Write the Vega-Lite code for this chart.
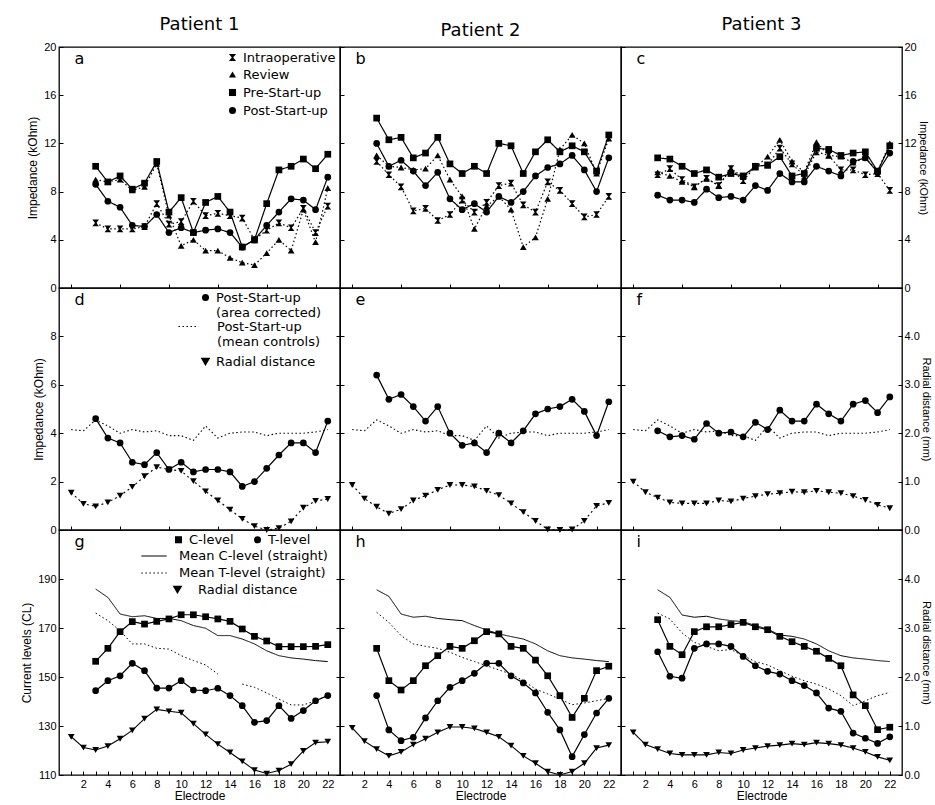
{
"$schema": "https://vega.github.io/schema/vega-lite/v6.json",
"background": "white",
"padding": {"left": 19, "top": 15, "right": 0, "bottom": 0},
"columns": 3,
"spacing": 0,
"bounds": "flush",
"resolve": {"scale": {"shape": "independent", "strokeDash": "independent", "color": "independent"}, "legend": {"shape": "independent", "strokeDash": "independent", "color": "independent"}},
"config": {
  "view": {"stroke": "black", "strokeWidth": 1.3},
  "font": "DejaVu Sans",
  "axis": {"domain": false, "grid": false, "tickSize": -4, "tickColor": "black", "tickWidth": 1, "labelColor": "black", "titleColor": "black", "labelFont": "Liberation Sans", "titleFont": "Liberation Sans", "labelFontSize": 11, "titleFontSize": 12, "titleFontWeight": "normal", "labelPadding": 7, "titlePadding": 4, "labelFlush": false, "labelOverlap": false},
  "title": {"font": "DejaVu Sans", "fontSize": 18, "fontWeight": "normal", "anchor": "middle", "frame": "group", "offset": 7, "color": "black"},
  "legend": {"labelFont": "DejaVu Sans", "labelFontSize": 13, "labelColor": "black", "symbolSize": 50, "rowPadding": 3, "padding": 0, "offset": 4, "labelLimit": 0, "symbolFillColor": "black", "symbolStrokeColor": "black"},
  "point": {"filled": true, "color": "black", "size": 45, "opacity": 1},
  "line": {"color": "black", "strokeWidth": 1.2}
},
"datasets": {
"r1": [
{"p":"a","s":"Intraoperative","e":3,"v":5.4},{"p":"a","s":"Intraoperative","e":4,"v":4.9},{"p":"a","s":"Intraoperative","e":5,"v":4.9},{"p":"a","s":"Intraoperative","e":6,"v":4.9},{"p":"a","s":"Intraoperative","e":7,"v":5.1},{"p":"a","s":"Intraoperative","e":8,"v":7.0},{"p":"a","s":"Intraoperative","e":9,"v":5.3},{"p":"a","s":"Intraoperative","e":10,"v":5.5},{"p":"a","s":"Intraoperative","e":11,"v":7.2},{"p":"a","s":"Intraoperative","e":12,"v":6.0},{"p":"a","s":"Intraoperative","e":13,"v":6.2},{"p":"a","s":"Intraoperative","e":14,"v":6.0},{"p":"a","s":"Intraoperative","e":15,"v":5.8},{"p":"a","s":"Intraoperative","e":16,"v":4.0},{"p":"a","s":"Intraoperative","e":17,"v":4.8},{"p":"a","s":"Intraoperative","e":18,"v":5.4},{"p":"a","s":"Intraoperative","e":19,"v":5.0},{"p":"a","s":"Intraoperative","e":20,"v":6.6},{"p":"a","s":"Intraoperative","e":21,"v":4.6},{"p":"a","s":"Intraoperative","e":22,"v":6.8},
{"p":"a","s":"Review","e":3,"v":9.0},{"p":"a","s":"Review","e":4,"v":8.8},{"p":"a","s":"Review","e":5,"v":9.0},{"p":"a","s":"Review","e":6,"v":8.1},{"p":"a","s":"Review","e":7,"v":8.4},{"p":"a","s":"Review","e":8,"v":10.3},{"p":"a","s":"Review","e":9,"v":6.0},{"p":"a","s":"Review","e":10,"v":3.5},{"p":"a","s":"Review","e":11,"v":4.0},{"p":"a","s":"Review","e":12,"v":3.1},{"p":"a","s":"Review","e":13,"v":3.1},{"p":"a","s":"Review","e":14,"v":2.5},{"p":"a","s":"Review","e":15,"v":2.1},{"p":"a","s":"Review","e":16,"v":1.9},{"p":"a","s":"Review","e":17,"v":2.9},{"p":"a","s":"Review","e":18,"v":4.0},{"p":"a","s":"Review","e":19,"v":3.1},{"p":"a","s":"Review","e":20,"v":6.5},{"p":"a","s":"Review","e":21,"v":3.8},{"p":"a","s":"Review","e":22,"v":8.3},
{"p":"a","s":"Pre-Start-up","e":3,"v":10.1},{"p":"a","s":"Pre-Start-up","e":4,"v":8.8},{"p":"a","s":"Pre-Start-up","e":5,"v":9.3},{"p":"a","s":"Pre-Start-up","e":6,"v":8.2},{"p":"a","s":"Pre-Start-up","e":7,"v":8.7},{"p":"a","s":"Pre-Start-up","e":8,"v":10.5},{"p":"a","s":"Pre-Start-up","e":9,"v":6.3},{"p":"a","s":"Pre-Start-up","e":10,"v":7.5},{"p":"a","s":"Pre-Start-up","e":11,"v":4.6},{"p":"a","s":"Pre-Start-up","e":12,"v":7.1},{"p":"a","s":"Pre-Start-up","e":13,"v":7.6},{"p":"a","s":"Pre-Start-up","e":14,"v":6.3},{"p":"a","s":"Pre-Start-up","e":15,"v":3.4},{"p":"a","s":"Pre-Start-up","e":16,"v":4.0},{"p":"a","s":"Pre-Start-up","e":17,"v":7.0},{"p":"a","s":"Pre-Start-up","e":18,"v":9.8},{"p":"a","s":"Pre-Start-up","e":19,"v":10.1},{"p":"a","s":"Pre-Start-up","e":20,"v":10.7},{"p":"a","s":"Pre-Start-up","e":21,"v":9.9},{"p":"a","s":"Pre-Start-up","e":22,"v":11.1},
{"p":"a","s":"Post-Start-up","e":3,"v":8.6},{"p":"a","s":"Post-Start-up","e":4,"v":7.2},{"p":"a","s":"Post-Start-up","e":5,"v":6.7},{"p":"a","s":"Post-Start-up","e":6,"v":5.2},{"p":"a","s":"Post-Start-up","e":7,"v":5.1},{"p":"a","s":"Post-Start-up","e":8,"v":6.1},{"p":"a","s":"Post-Start-up","e":9,"v":4.6},{"p":"a","s":"Post-Start-up","e":10,"v":5.0},{"p":"a","s":"Post-Start-up","e":11,"v":4.6},{"p":"a","s":"Post-Start-up","e":12,"v":4.8},{"p":"a","s":"Post-Start-up","e":13,"v":4.9},{"p":"a","s":"Post-Start-up","e":14,"v":4.6},{"p":"a","s":"Post-Start-up","e":15,"v":3.4},{"p":"a","s":"Post-Start-up","e":16,"v":4.0},{"p":"a","s":"Post-Start-up","e":17,"v":5.2},{"p":"a","s":"Post-Start-up","e":18,"v":6.3},{"p":"a","s":"Post-Start-up","e":19,"v":7.4},{"p":"a","s":"Post-Start-up","e":20,"v":7.3},{"p":"a","s":"Post-Start-up","e":21,"v":6.5},{"p":"a","s":"Post-Start-up","e":22,"v":9.2},
{"p":"b","s":"Intraoperative","e":3,"v":10.5},{"p":"b","s":"Intraoperative","e":4,"v":9.4},{"p":"b","s":"Intraoperative","e":5,"v":8.4},{"p":"b","s":"Intraoperative","e":6,"v":6.4},{"p":"b","s":"Intraoperative","e":7,"v":6.6},{"p":"b","s":"Intraoperative","e":8,"v":5.6},{"p":"b","s":"Intraoperative","e":9,"v":6.1},{"p":"b","s":"Intraoperative","e":10,"v":7.3},{"p":"b","s":"Intraoperative","e":11,"v":6.3},{"p":"b","s":"Intraoperative","e":12,"v":7.1},{"p":"b","s":"Intraoperative","e":13,"v":8.5},{"p":"b","s":"Intraoperative","e":14,"v":8.7},{"p":"b","s":"Intraoperative","e":15,"v":6.9},{"p":"b","s":"Intraoperative","e":16,"v":6.3},{"p":"b","s":"Intraoperative","e":17,"v":8.8},{"p":"b","s":"Intraoperative","e":18,"v":8.1},{"p":"b","s":"Intraoperative","e":19,"v":7.0},{"p":"b","s":"Intraoperative","e":20,"v":5.9},{"p":"b","s":"Intraoperative","e":21,"v":6.1},{"p":"b","s":"Intraoperative","e":22,"v":7.6},
{"p":"b","s":"Review","e":3,"v":11.0},{"p":"b","s":"Review","e":4,"v":10.1},{"p":"b","s":"Review","e":5,"v":10.0},{"p":"b","s":"Review","e":6,"v":9.8},{"p":"b","s":"Review","e":7,"v":9.9},{"p":"b","s":"Review","e":8,"v":11.0},{"p":"b","s":"Review","e":9,"v":9.0},{"p":"b","s":"Review","e":10,"v":7.6},{"p":"b","s":"Review","e":11,"v":4.9},{"p":"b","s":"Review","e":12,"v":6.8},{"p":"b","s":"Review","e":13,"v":7.6},{"p":"b","s":"Review","e":14,"v":6.5},{"p":"b","s":"Review","e":15,"v":3.4},{"p":"b","s":"Review","e":16,"v":4.2},{"p":"b","s":"Review","e":17,"v":7.4},{"p":"b","s":"Review","e":18,"v":11.5},{"p":"b","s":"Review","e":19,"v":12.7},{"p":"b","s":"Review","e":20,"v":12.0},{"p":"b","s":"Review","e":21,"v":9.5},{"p":"b","s":"Review","e":22,"v":12.4},
{"p":"b","s":"Pre-Start-up","e":3,"v":14.1},{"p":"b","s":"Pre-Start-up","e":4,"v":12.3},{"p":"b","s":"Pre-Start-up","e":5,"v":12.5},{"p":"b","s":"Pre-Start-up","e":6,"v":10.8},{"p":"b","s":"Pre-Start-up","e":7,"v":11.2},{"p":"b","s":"Pre-Start-up","e":8,"v":12.5},{"p":"b","s":"Pre-Start-up","e":9,"v":10.3},{"p":"b","s":"Pre-Start-up","e":10,"v":9.5},{"p":"b","s":"Pre-Start-up","e":11,"v":10.1},{"p":"b","s":"Pre-Start-up","e":12,"v":9.5},{"p":"b","s":"Pre-Start-up","e":13,"v":12.0},{"p":"b","s":"Pre-Start-up","e":14,"v":11.8},{"p":"b","s":"Pre-Start-up","e":15,"v":9.5},{"p":"b","s":"Pre-Start-up","e":16,"v":11.3},{"p":"b","s":"Pre-Start-up","e":17,"v":12.3},{"p":"b","s":"Pre-Start-up","e":18,"v":11.3},{"p":"b","s":"Pre-Start-up","e":19,"v":11.8},{"p":"b","s":"Pre-Start-up","e":20,"v":11.3},{"p":"b","s":"Pre-Start-up","e":21,"v":9.7},{"p":"b","s":"Pre-Start-up","e":22,"v":12.7},
{"p":"b","s":"Post-Start-up","e":3,"v":12.0},{"p":"b","s":"Post-Start-up","e":4,"v":10.1},{"p":"b","s":"Post-Start-up","e":5,"v":10.6},{"p":"b","s":"Post-Start-up","e":6,"v":9.7},{"p":"b","s":"Post-Start-up","e":7,"v":8.5},{"p":"b","s":"Post-Start-up","e":8,"v":9.6},{"p":"b","s":"Post-Start-up","e":9,"v":7.4},{"p":"b","s":"Post-Start-up","e":10,"v":6.5},{"p":"b","s":"Post-Start-up","e":11,"v":7.0},{"p":"b","s":"Post-Start-up","e":12,"v":6.3},{"p":"b","s":"Post-Start-up","e":13,"v":7.6},{"p":"b","s":"Post-Start-up","e":14,"v":7.1},{"p":"b","s":"Post-Start-up","e":15,"v":8.0},{"p":"b","s":"Post-Start-up","e":16,"v":9.3},{"p":"b","s":"Post-Start-up","e":17,"v":10.0},{"p":"b","s":"Post-Start-up","e":18,"v":10.3},{"p":"b","s":"Post-Start-up","e":19,"v":11.0},{"p":"b","s":"Post-Start-up","e":20,"v":9.8},{"p":"b","s":"Post-Start-up","e":21,"v":8.0},{"p":"b","s":"Post-Start-up","e":22,"v":10.8},
{"p":"c","s":"Intraoperative","e":3,"v":9.4},{"p":"c","s":"Intraoperative","e":4,"v":9.9},{"p":"c","s":"Intraoperative","e":5,"v":9.0},{"p":"c","s":"Intraoperative","e":6,"v":8.4},{"p":"c","s":"Intraoperative","e":7,"v":9.1},{"p":"c","s":"Intraoperative","e":8,"v":8.5},{"p":"c","s":"Intraoperative","e":9,"v":9.9},{"p":"c","s":"Intraoperative","e":10,"v":8.9},{"p":"c","s":"Intraoperative","e":11,"v":10.1},{"p":"c","s":"Intraoperative","e":12,"v":10.2},{"p":"c","s":"Intraoperative","e":13,"v":11.6},{"p":"c","s":"Intraoperative","e":14,"v":10.3},{"p":"c","s":"Intraoperative","e":15,"v":9.3},{"p":"c","s":"Intraoperative","e":16,"v":11.3},{"p":"c","s":"Intraoperative","e":17,"v":11.0},{"p":"c","s":"Intraoperative","e":18,"v":9.8},{"p":"c","s":"Intraoperative","e":19,"v":9.8},{"p":"c","s":"Intraoperative","e":20,"v":9.4},{"p":"c","s":"Intraoperative","e":21,"v":9.5},{"p":"c","s":"Intraoperative","e":22,"v":8.1},
{"p":"c","s":"Review","e":3,"v":9.6},{"p":"c","s":"Review","e":4,"v":9.3},{"p":"c","s":"Review","e":5,"v":8.8},{"p":"c","s":"Review","e":6,"v":8.4},{"p":"c","s":"Review","e":7,"v":9.1},{"p":"c","s":"Review","e":8,"v":8.5},{"p":"c","s":"Review","e":9,"v":9.9},{"p":"c","s":"Review","e":10,"v":9.2},{"p":"c","s":"Review","e":11,"v":10.0},{"p":"c","s":"Review","e":12,"v":10.9},{"p":"c","s":"Review","e":13,"v":12.3},{"p":"c","s":"Review","e":14,"v":10.5},{"p":"c","s":"Review","e":15,"v":9.6},{"p":"c","s":"Review","e":16,"v":12.1},{"p":"c","s":"Review","e":17,"v":11.0},{"p":"c","s":"Review","e":18,"v":10.9},{"p":"c","s":"Review","e":19,"v":10.4},{"p":"c","s":"Review","e":20,"v":10.8},{"p":"c","s":"Review","e":21,"v":9.7},{"p":"c","s":"Review","e":22,"v":12.0},
{"p":"c","s":"Pre-Start-up","e":3,"v":10.8},{"p":"c","s":"Pre-Start-up","e":4,"v":10.7},{"p":"c","s":"Pre-Start-up","e":5,"v":10.1},{"p":"c","s":"Pre-Start-up","e":6,"v":9.5},{"p":"c","s":"Pre-Start-up","e":7,"v":9.8},{"p":"c","s":"Pre-Start-up","e":8,"v":9.2},{"p":"c","s":"Pre-Start-up","e":9,"v":9.5},{"p":"c","s":"Pre-Start-up","e":10,"v":9.3},{"p":"c","s":"Pre-Start-up","e":11,"v":10.1},{"p":"c","s":"Pre-Start-up","e":12,"v":10.2},{"p":"c","s":"Pre-Start-up","e":13,"v":10.9},{"p":"c","s":"Pre-Start-up","e":14,"v":9.3},{"p":"c","s":"Pre-Start-up","e":15,"v":9.5},{"p":"c","s":"Pre-Start-up","e":16,"v":11.6},{"p":"c","s":"Pre-Start-up","e":17,"v":11.5},{"p":"c","s":"Pre-Start-up","e":18,"v":11.0},{"p":"c","s":"Pre-Start-up","e":19,"v":11.2},{"p":"c","s":"Pre-Start-up","e":20,"v":11.3},{"p":"c","s":"Pre-Start-up","e":21,"v":9.7},{"p":"c","s":"Pre-Start-up","e":22,"v":11.8},
{"p":"c","s":"Post-Start-up","e":3,"v":7.7},{"p":"c","s":"Post-Start-up","e":4,"v":7.3},{"p":"c","s":"Post-Start-up","e":5,"v":7.3},{"p":"c","s":"Post-Start-up","e":6,"v":7.1},{"p":"c","s":"Post-Start-up","e":7,"v":8.2},{"p":"c","s":"Post-Start-up","e":8,"v":7.5},{"p":"c","s":"Post-Start-up","e":9,"v":7.6},{"p":"c","s":"Post-Start-up","e":10,"v":7.3},{"p":"c","s":"Post-Start-up","e":11,"v":8.5},{"p":"c","s":"Post-Start-up","e":12,"v":8.1},{"p":"c","s":"Post-Start-up","e":13,"v":9.5},{"p":"c","s":"Post-Start-up","e":14,"v":8.8},{"p":"c","s":"Post-Start-up","e":15,"v":8.8},{"p":"c","s":"Post-Start-up","e":16,"v":10.1},{"p":"c","s":"Post-Start-up","e":17,"v":9.7},{"p":"c","s":"Post-Start-up","e":18,"v":9.3},{"p":"c","s":"Post-Start-up","e":19,"v":10.5},{"p":"c","s":"Post-Start-up","e":20,"v":10.8},{"p":"c","s":"Post-Start-up","e":21,"v":9.6},{"p":"c","s":"Post-Start-up","e":22,"v":11.2}
],
"r2": [
{"p":"d","s":"Post-Start-up (area corrected)","e":3,"v":4.6},{"p":"d","s":"Post-Start-up (area corrected)","e":4,"v":3.8},{"p":"d","s":"Post-Start-up (area corrected)","e":5,"v":3.6},{"p":"d","s":"Post-Start-up (area corrected)","e":6,"v":2.8},{"p":"d","s":"Post-Start-up (area corrected)","e":7,"v":2.7},{"p":"d","s":"Post-Start-up (area corrected)","e":8,"v":3.2},{"p":"d","s":"Post-Start-up (area corrected)","e":9,"v":2.5},{"p":"d","s":"Post-Start-up (area corrected)","e":10,"v":2.8},{"p":"d","s":"Post-Start-up (area corrected)","e":11,"v":2.4},{"p":"d","s":"Post-Start-up (area corrected)","e":12,"v":2.5},{"p":"d","s":"Post-Start-up (area corrected)","e":13,"v":2.5},{"p":"d","s":"Post-Start-up (area corrected)","e":14,"v":2.4},{"p":"d","s":"Post-Start-up (area corrected)","e":15,"v":1.8},{"p":"d","s":"Post-Start-up (area corrected)","e":16,"v":2.0},{"p":"d","s":"Post-Start-up (area corrected)","e":17,"v":2.55},{"p":"d","s":"Post-Start-up (area corrected)","e":18,"v":3.1},{"p":"d","s":"Post-Start-up (area corrected)","e":19,"v":3.6},{"p":"d","s":"Post-Start-up (area corrected)","e":20,"v":3.6},{"p":"d","s":"Post-Start-up (area corrected)","e":21,"v":3.2},{"p":"d","s":"Post-Start-up (area corrected)","e":22,"v":4.5},
{"p":"e","s":"Post-Start-up (area corrected)","e":3,"v":6.4},{"p":"e","s":"Post-Start-up (area corrected)","e":4,"v":5.4},{"p":"e","s":"Post-Start-up (area corrected)","e":5,"v":5.6},{"p":"e","s":"Post-Start-up (area corrected)","e":6,"v":5.1},{"p":"e","s":"Post-Start-up (area corrected)","e":7,"v":4.5},{"p":"e","s":"Post-Start-up (area corrected)","e":8,"v":5.1},{"p":"e","s":"Post-Start-up (area corrected)","e":9,"v":4.0},{"p":"e","s":"Post-Start-up (area corrected)","e":10,"v":3.5},{"p":"e","s":"Post-Start-up (area corrected)","e":11,"v":3.6},{"p":"e","s":"Post-Start-up (area corrected)","e":12,"v":3.2},{"p":"e","s":"Post-Start-up (area corrected)","e":13,"v":4.0},{"p":"e","s":"Post-Start-up (area corrected)","e":14,"v":3.6},{"p":"e","s":"Post-Start-up (area corrected)","e":15,"v":4.1},{"p":"e","s":"Post-Start-up (area corrected)","e":16,"v":4.8},{"p":"e","s":"Post-Start-up (area corrected)","e":17,"v":5.0},{"p":"e","s":"Post-Start-up (area corrected)","e":18,"v":5.1},{"p":"e","s":"Post-Start-up (area corrected)","e":19,"v":5.4},{"p":"e","s":"Post-Start-up (area corrected)","e":20,"v":4.9},{"p":"e","s":"Post-Start-up (area corrected)","e":21,"v":3.9},{"p":"e","s":"Post-Start-up (area corrected)","e":22,"v":5.3},
{"p":"f","s":"Post-Start-up (area corrected)","e":3,"v":4.1},{"p":"f","s":"Post-Start-up (area corrected)","e":4,"v":3.85},{"p":"f","s":"Post-Start-up (area corrected)","e":5,"v":3.9},{"p":"f","s":"Post-Start-up (area corrected)","e":6,"v":3.75},{"p":"f","s":"Post-Start-up (area corrected)","e":7,"v":4.4},{"p":"f","s":"Post-Start-up (area corrected)","e":8,"v":4.0},{"p":"f","s":"Post-Start-up (area corrected)","e":9,"v":4.05},{"p":"f","s":"Post-Start-up (area corrected)","e":10,"v":3.85},{"p":"f","s":"Post-Start-up (area corrected)","e":11,"v":4.45},{"p":"f","s":"Post-Start-up (area corrected)","e":12,"v":4.15},{"p":"f","s":"Post-Start-up (area corrected)","e":13,"v":4.95},{"p":"f","s":"Post-Start-up (area corrected)","e":14,"v":4.5},{"p":"f","s":"Post-Start-up (area corrected)","e":15,"v":4.5},{"p":"f","s":"Post-Start-up (area corrected)","e":16,"v":5.2},{"p":"f","s":"Post-Start-up (area corrected)","e":17,"v":4.8},{"p":"f","s":"Post-Start-up (area corrected)","e":18,"v":4.5},{"p":"f","s":"Post-Start-up (area corrected)","e":19,"v":5.2},{"p":"f","s":"Post-Start-up (area corrected)","e":20,"v":5.35},{"p":"f","s":"Post-Start-up (area corrected)","e":21,"v":4.85},{"p":"f","s":"Post-Start-up (area corrected)","e":22,"v":5.5}
],
"ctrl": [
{"s":"Post-Start-up (mean controls)","e":1,"v":4.15},{"s":"Post-Start-up (mean controls)","e":2,"v":4.1},{"s":"Post-Start-up (mean controls)","e":3,"v":4.55},{"s":"Post-Start-up (mean controls)","e":4,"v":4.3},{"s":"Post-Start-up (mean controls)","e":5,"v":4.0},{"s":"Post-Start-up (mean controls)","e":6,"v":4.15},{"s":"Post-Start-up (mean controls)","e":7,"v":4.05},{"s":"Post-Start-up (mean controls)","e":8,"v":4.1},{"s":"Post-Start-up (mean controls)","e":9,"v":3.9},{"s":"Post-Start-up (mean controls)","e":10,"v":3.9},{"s":"Post-Start-up (mean controls)","e":11,"v":3.7},{"s":"Post-Start-up (mean controls)","e":12,"v":4.3},{"s":"Post-Start-up (mean controls)","e":13,"v":3.8},{"s":"Post-Start-up (mean controls)","e":14,"v":4.0},{"s":"Post-Start-up (mean controls)","e":15,"v":4.05},{"s":"Post-Start-up (mean controls)","e":16,"v":4.05},{"s":"Post-Start-up (mean controls)","e":17,"v":3.9},{"s":"Post-Start-up (mean controls)","e":18,"v":4.0},{"s":"Post-Start-up (mean controls)","e":19,"v":4.0},{"s":"Post-Start-up (mean controls)","e":20,"v":4.0},{"s":"Post-Start-up (mean controls)","e":21,"v":4.05},{"s":"Post-Start-up (mean controls)","e":22,"v":4.15}
],
"rad": [
{"p":"d","s":"Radial distance","e":1,"v":0.77},{"p":"d","s":"Radial distance","e":2,"v":0.54},{"p":"d","s":"Radial distance","e":3,"v":0.49},{"p":"d","s":"Radial distance","e":4,"v":0.57},{"p":"d","s":"Radial distance","e":5,"v":0.71},{"p":"d","s":"Radial distance","e":6,"v":0.89},{"p":"d","s":"Radial distance","e":7,"v":1.11},{"p":"d","s":"Radial distance","e":8,"v":1.3},{"p":"d","s":"Radial distance","e":9,"v":1.25},{"p":"d","s":"Radial distance","e":10,"v":1.22},{"p":"d","s":"Radial distance","e":11,"v":1.01},{"p":"d","s":"Radial distance","e":12,"v":0.8},{"p":"d","s":"Radial distance","e":13,"v":0.61},{"p":"d","s":"Radial distance","e":14,"v":0.42},{"p":"d","s":"Radial distance","e":15,"v":0.23},{"p":"d","s":"Radial distance","e":16,"v":0.08},{"p":"d","s":"Radial distance","e":17,"v":0.0},{"p":"d","s":"Radial distance","e":18,"v":0.04},{"p":"d","s":"Radial distance","e":19,"v":0.18},{"p":"d","s":"Radial distance","e":20,"v":0.46},{"p":"d","s":"Radial distance","e":21,"v":0.6},{"p":"d","s":"Radial distance","e":22,"v":0.64},
{"p":"e","s":"Radial distance","e":1,"v":0.93},{"p":"e","s":"Radial distance","e":2,"v":0.65},{"p":"e","s":"Radial distance","e":3,"v":0.48},{"p":"e","s":"Radial distance","e":4,"v":0.34},{"p":"e","s":"Radial distance","e":5,"v":0.43},{"p":"e","s":"Radial distance","e":6,"v":0.61},{"p":"e","s":"Radial distance","e":7,"v":0.71},{"p":"e","s":"Radial distance","e":8,"v":0.83},{"p":"e","s":"Radial distance","e":9,"v":0.93},{"p":"e","s":"Radial distance","e":10,"v":0.93},{"p":"e","s":"Radial distance","e":11,"v":0.9},{"p":"e","s":"Radial distance","e":12,"v":0.81},{"p":"e","s":"Radial distance","e":13,"v":0.72},{"p":"e","s":"Radial distance","e":14,"v":0.55},{"p":"e","s":"Radial distance","e":15,"v":0.37},{"p":"e","s":"Radial distance","e":16,"v":0.19},{"p":"e","s":"Radial distance","e":17,"v":0.01},{"p":"e","s":"Radial distance","e":18,"v":0.0},{"p":"e","s":"Radial distance","e":19,"v":0.01},{"p":"e","s":"Radial distance","e":20,"v":0.19},{"p":"e","s":"Radial distance","e":21,"v":0.5},{"p":"e","s":"Radial distance","e":22,"v":0.56},
{"p":"f","s":"Radial distance","e":1,"v":1.0},{"p":"f","s":"Radial distance","e":2,"v":0.78},{"p":"f","s":"Radial distance","e":3,"v":0.67},{"p":"f","s":"Radial distance","e":4,"v":0.57},{"p":"f","s":"Radial distance","e":5,"v":0.55},{"p":"f","s":"Radial distance","e":6,"v":0.55},{"p":"f","s":"Radial distance","e":7,"v":0.55},{"p":"f","s":"Radial distance","e":8,"v":0.61},{"p":"f","s":"Radial distance","e":9,"v":0.59},{"p":"f","s":"Radial distance","e":10,"v":0.65},{"p":"f","s":"Radial distance","e":11,"v":0.7},{"p":"f","s":"Radial distance","e":12,"v":0.74},{"p":"f","s":"Radial distance","e":13,"v":0.76},{"p":"f","s":"Radial distance","e":14,"v":0.79},{"p":"f","s":"Radial distance","e":15,"v":0.78},{"p":"f","s":"Radial distance","e":16,"v":0.81},{"p":"f","s":"Radial distance","e":17,"v":0.78},{"p":"f","s":"Radial distance","e":18,"v":0.76},{"p":"f","s":"Radial distance","e":19,"v":0.7},{"p":"f","s":"Radial distance","e":20,"v":0.62},{"p":"f","s":"Radial distance","e":21,"v":0.52},{"p":"f","s":"Radial distance","e":22,"v":0.45},
{"p":"g","s":"Radial distance","e":1,"v":0.78},{"p":"g","s":"Radial distance","e":2,"v":0.56},{"p":"g","s":"Radial distance","e":3,"v":0.51},{"p":"g","s":"Radial distance","e":4,"v":0.59},{"p":"g","s":"Radial distance","e":5,"v":0.74},{"p":"g","s":"Radial distance","e":6,"v":0.91},{"p":"g","s":"Radial distance","e":7,"v":1.15},{"p":"g","s":"Radial distance","e":8,"v":1.34},{"p":"g","s":"Radial distance","e":9,"v":1.3},{"p":"g","s":"Radial distance","e":10,"v":1.27},{"p":"g","s":"Radial distance","e":11,"v":1.05},{"p":"g","s":"Radial distance","e":12,"v":0.83},{"p":"g","s":"Radial distance","e":13,"v":0.63},{"p":"g","s":"Radial distance","e":14,"v":0.46},{"p":"g","s":"Radial distance","e":15,"v":0.28},{"p":"g","s":"Radial distance","e":16,"v":0.1},{"p":"g","s":"Radial distance","e":17,"v":0.03},{"p":"g","s":"Radial distance","e":18,"v":0.09},{"p":"g","s":"Radial distance","e":19,"v":0.22},{"p":"g","s":"Radial distance","e":20,"v":0.49},{"p":"g","s":"Radial distance","e":21,"v":0.66},{"p":"g","s":"Radial distance","e":22,"v":0.68},
{"p":"h","s":"Radial distance","e":1,"v":0.96},{"p":"h","s":"Radial distance","e":2,"v":0.69},{"p":"h","s":"Radial distance","e":3,"v":0.53},{"p":"h","s":"Radial distance","e":4,"v":0.39},{"p":"h","s":"Radial distance","e":5,"v":0.47},{"p":"h","s":"Radial distance","e":6,"v":0.62},{"p":"h","s":"Radial distance","e":7,"v":0.74},{"p":"h","s":"Radial distance","e":8,"v":0.87},{"p":"h","s":"Radial distance","e":9,"v":0.98},{"p":"h","s":"Radial distance","e":10,"v":0.98},{"p":"h","s":"Radial distance","e":11,"v":0.95},{"p":"h","s":"Radial distance","e":12,"v":0.87},{"p":"h","s":"Radial distance","e":13,"v":0.78},{"p":"h","s":"Radial distance","e":14,"v":0.6},{"p":"h","s":"Radial distance","e":15,"v":0.39},{"p":"h","s":"Radial distance","e":16,"v":0.24},{"p":"h","s":"Radial distance","e":17,"v":0.07},{"p":"h","s":"Radial distance","e":18,"v":0.0},{"p":"h","s":"Radial distance","e":19,"v":0.07},{"p":"h","s":"Radial distance","e":20,"v":0.24},{"p":"h","s":"Radial distance","e":21,"v":0.55},{"p":"h","s":"Radial distance","e":22,"v":0.61},
{"p":"i","s":"Radial distance","e":1,"v":0.87},{"p":"i","s":"Radial distance","e":2,"v":0.62},{"p":"i","s":"Radial distance","e":3,"v":0.53},{"p":"i","s":"Radial distance","e":4,"v":0.44},{"p":"i","s":"Radial distance","e":5,"v":0.41},{"p":"i","s":"Radial distance","e":6,"v":0.41},{"p":"i","s":"Radial distance","e":7,"v":0.41},{"p":"i","s":"Radial distance","e":8,"v":0.46},{"p":"i","s":"Radial distance","e":9,"v":0.44},{"p":"i","s":"Radial distance","e":10,"v":0.51},{"p":"i","s":"Radial distance","e":11,"v":0.55},{"p":"i","s":"Radial distance","e":12,"v":0.59},{"p":"i","s":"Radial distance","e":13,"v":0.61},{"p":"i","s":"Radial distance","e":14,"v":0.64},{"p":"i","s":"Radial distance","e":15,"v":0.62},{"p":"i","s":"Radial distance","e":16,"v":0.66},{"p":"i","s":"Radial distance","e":17,"v":0.64},{"p":"i","s":"Radial distance","e":18,"v":0.61},{"p":"i","s":"Radial distance","e":19,"v":0.55},{"p":"i","s":"Radial distance","e":20,"v":0.47},{"p":"i","s":"Radial distance","e":21,"v":0.37},{"p":"i","s":"Radial distance","e":22,"v":0.3}
],
"r3": [
{"p":"g","s":"C-level","e":3,"v":156.4},{"p":"g","s":"C-level","e":4,"v":161.7},{"p":"g","s":"C-level","e":5,"v":168.5},{"p":"g","s":"C-level","e":6,"v":172.6},{"p":"g","s":"C-level","e":7,"v":171.6},{"p":"g","s":"C-level","e":8,"v":172.7},{"p":"g","s":"C-level","e":9,"v":173.7},{"p":"g","s":"C-level","e":10,"v":175.4},{"p":"g","s":"C-level","e":11,"v":175.4},{"p":"g","s":"C-level","e":12,"v":174.6},{"p":"g","s":"C-level","e":13,"v":173.7},{"p":"g","s":"C-level","e":14,"v":172.7},{"p":"g","s":"C-level","e":15,"v":169.6},{"p":"g","s":"C-level","e":16,"v":166.6},{"p":"g","s":"C-level","e":17,"v":164.7},{"p":"g","s":"C-level","e":18,"v":162.4},{"p":"g","s":"C-level","e":19,"v":162.4},{"p":"g","s":"C-level","e":20,"v":162.4},{"p":"g","s":"C-level","e":21,"v":162.5},{"p":"g","s":"C-level","e":22,"v":163.2},
{"p":"g","s":"T-level","e":3,"v":144.4},{"p":"g","s":"T-level","e":4,"v":148.5},{"p":"g","s":"T-level","e":5,"v":150.5},{"p":"g","s":"T-level","e":6,"v":155.6},{"p":"g","s":"T-level","e":7,"v":152.6},{"p":"g","s":"T-level","e":8,"v":145.5},{"p":"g","s":"T-level","e":9,"v":145.5},{"p":"g","s":"T-level","e":10,"v":148.5},{"p":"g","s":"T-level","e":11,"v":144.7},{"p":"g","s":"T-level","e":12,"v":144.4},{"p":"g","s":"T-level","e":13,"v":145.4},{"p":"g","s":"T-level","e":14,"v":142.4},{"p":"g","s":"T-level","e":15,"v":138.3},{"p":"g","s":"T-level","e":16,"v":131.5},{"p":"g","s":"T-level","e":17,"v":132.2},{"p":"g","s":"T-level","e":18,"v":138.3},{"p":"g","s":"T-level","e":19,"v":133.1},{"p":"g","s":"T-level","e":20,"v":136.3},{"p":"g","s":"T-level","e":21,"v":140.3},{"p":"g","s":"T-level","e":22,"v":142.4},
{"p":"g","s":"Mean C-level (straight)","e":3,"v":185.9},{"p":"g","s":"Mean C-level (straight)","e":4,"v":182.5},{"p":"g","s":"Mean C-level (straight)","e":5,"v":175.7},{"p":"g","s":"Mean C-level (straight)","e":6,"v":174.6},{"p":"g","s":"Mean C-level (straight)","e":7,"v":175.0},{"p":"g","s":"Mean C-level (straight)","e":8,"v":173.9},{"p":"g","s":"Mean C-level (straight)","e":9,"v":173.9},{"p":"g","s":"Mean C-level (straight)","e":10,"v":173.0},{"p":"g","s":"Mean C-level (straight)","e":11,"v":171.0},{"p":"g","s":"Mean C-level (straight)","e":12,"v":169.9},{"p":"g","s":"Mean C-level (straight)","e":13,"v":166.9},{"p":"g","s":"Mean C-level (straight)","e":14,"v":166.9},{"p":"g","s":"Mean C-level (straight)","e":15,"v":165.5},{"p":"g","s":"Mean C-level (straight)","e":16,"v":163.5},{"p":"g","s":"Mean C-level (straight)","e":17,"v":160.7},{"p":"g","s":"Mean C-level (straight)","e":18,"v":158.7},{"p":"g","s":"Mean C-level (straight)","e":19,"v":157.8},{"p":"g","s":"Mean C-level (straight)","e":20,"v":157.3},{"p":"g","s":"Mean C-level (straight)","e":21,"v":156.7},{"p":"g","s":"Mean C-level (straight)","e":22,"v":156.3},
{"p":"g","s":"Mean T-level (straight)","e":3,"v":176.1},{"p":"g","s":"Mean T-level (straight)","e":4,"v":173.0},{"p":"g","s":"Mean T-level (straight)","e":5,"v":168.9},{"p":"g","s":"Mean T-level (straight)","e":6,"v":163.5},{"p":"g","s":"Mean T-level (straight)","e":7,"v":163.5},{"p":"g","s":"Mean T-level (straight)","e":8,"v":161.7},{"p":"g","s":"Mean T-level (straight)","e":9,"v":161.4},{"p":"g","s":"Mean T-level (straight)","e":10,"v":158.7},{"p":"g","s":"Mean T-level (straight)","e":11,"v":156.7},{"p":"g","s":"Mean T-level (straight)","e":12,"v":154.9},{"p":"g","s":"Mean T-level (straight)","e":13,"v":151.2},{"p":"g","s":"Mean T-level (straight)","e":14,"v":null},{"p":"g","s":"Mean T-level (straight)","e":15,"v":147.1},{"p":"g","s":"Mean T-level (straight)","e":16,"v":145.8},{"p":"g","s":"Mean T-level (straight)","e":17,"v":143.5},{"p":"g","s":"Mean T-level (straight)","e":18,"v":141.0},{"p":"g","s":"Mean T-level (straight)","e":19,"v":138.6},{"p":"g","s":"Mean T-level (straight)","e":20,"v":138.6},{"p":"g","s":"Mean T-level (straight)","e":21,"v":140.3},{"p":"g","s":"Mean T-level (straight)","e":22,"v":142.4},
{"p":"h","s":"C-level","e":3,"v":161.7},{"p":"h","s":"C-level","e":4,"v":148.5},{"p":"h","s":"C-level","e":5,"v":144.7},{"p":"h","s":"C-level","e":6,"v":148.5},{"p":"h","s":"C-level","e":7,"v":154.6},{"p":"h","s":"C-level","e":8,"v":158.7},{"p":"h","s":"C-level","e":9,"v":162.5},{"p":"h","s":"C-level","e":10,"v":161.7},{"p":"h","s":"C-level","e":11,"v":164.8},{"p":"h","s":"C-level","e":12,"v":168.5},{"p":"h","s":"C-level","e":13,"v":167.6},{"p":"h","s":"C-level","e":14,"v":162.5},{"p":"h","s":"C-level","e":15,"v":161.7},{"p":"h","s":"C-level","e":16,"v":156.9},{"p":"h","s":"C-level","e":17,"v":150.5},{"p":"h","s":"C-level","e":18,"v":142.4},{"p":"h","s":"C-level","e":19,"v":133.5},{"p":"h","s":"C-level","e":20,"v":141.3},{"p":"h","s":"C-level","e":21,"v":152.6},{"p":"h","s":"C-level","e":22,"v":154.4},
{"p":"h","s":"T-level","e":3,"v":142.4},{"p":"h","s":"T-level","e":4,"v":128.4},{"p":"h","s":"T-level","e":5,"v":124.0},{"p":"h","s":"T-level","e":6,"v":125.4},{"p":"h","s":"T-level","e":7,"v":133.3},{"p":"h","s":"T-level","e":8,"v":140.3},{"p":"h","s":"T-level","e":9,"v":145.8},{"p":"h","s":"T-level","e":10,"v":148.5},{"p":"h","s":"T-level","e":11,"v":151.5},{"p":"h","s":"T-level","e":12,"v":155.6},{"p":"h","s":"T-level","e":13,"v":155.6},{"p":"h","s":"T-level","e":14,"v":150.5},{"p":"h","s":"T-level","e":15,"v":147.6},{"p":"h","s":"T-level","e":16,"v":143.5},{"p":"h","s":"T-level","e":17,"v":135.6},{"p":"h","s":"T-level","e":18,"v":128.4},{"p":"h","s":"T-level","e":19,"v":117.5},{"p":"h","s":"T-level","e":20,"v":126.5},{"p":"h","s":"T-level","e":21,"v":135.3},{"p":"h","s":"T-level","e":22,"v":141.3},
{"p":"h","s":"Mean C-level (straight)","e":3,"v":185.6},{"p":"h","s":"Mean C-level (straight)","e":4,"v":182.9},{"p":"h","s":"Mean C-level (straight)","e":5,"v":175.7},{"p":"h","s":"Mean C-level (straight)","e":6,"v":174.4},{"p":"h","s":"Mean C-level (straight)","e":7,"v":174.8},{"p":"h","s":"Mean C-level (straight)","e":8,"v":173.9},{"p":"h","s":"Mean C-level (straight)","e":9,"v":173.4},{"p":"h","s":"Mean C-level (straight)","e":10,"v":173.0},{"p":"h","s":"Mean C-level (straight)","e":11,"v":171.0},{"p":"h","s":"Mean C-level (straight)","e":12,"v":169.2},{"p":"h","s":"Mean C-level (straight)","e":13,"v":167.6},{"p":"h","s":"Mean C-level (straight)","e":14,"v":166.5},{"p":"h","s":"Mean C-level (straight)","e":15,"v":165.5},{"p":"h","s":"Mean C-level (straight)","e":16,"v":163.5},{"p":"h","s":"Mean C-level (straight)","e":17,"v":160.7},{"p":"h","s":"Mean C-level (straight)","e":18,"v":158.7},{"p":"h","s":"Mean C-level (straight)","e":19,"v":157.8},{"p":"h","s":"Mean C-level (straight)","e":20,"v":157.3},{"p":"h","s":"Mean C-level (straight)","e":21,"v":156.7},{"p":"h","s":"Mean C-level (straight)","e":22,"v":156.3},
{"p":"h","s":"Mean T-level (straight)","e":3,"v":176.4},{"p":"h","s":"Mean T-level (straight)","e":4,"v":172.3},{"p":"h","s":"Mean T-level (straight)","e":5,"v":166.9},{"p":"h","s":"Mean T-level (straight)","e":6,"v":163.5},{"p":"h","s":"Mean T-level (straight)","e":7,"v":162.5},{"p":"h","s":"Mean T-level (straight)","e":8,"v":161.7},{"p":"h","s":"Mean T-level (straight)","e":9,"v":160.1},{"p":"h","s":"Mean T-level (straight)","e":10,"v":158.0},{"p":"h","s":"Mean T-level (straight)","e":11,"v":156.3},{"p":"h","s":"Mean T-level (straight)","e":12,"v":154.6},{"p":"h","s":"Mean T-level (straight)","e":13,"v":152.9},{"p":"h","s":"Mean T-level (straight)","e":14,"v":151.2},{"p":"h","s":"Mean T-level (straight)","e":15,"v":148.5},{"p":"h","s":"Mean T-level (straight)","e":16,"v":145.1},{"p":"h","s":"Mean T-level (straight)","e":17,"v":143.1},{"p":"h","s":"Mean T-level (straight)","e":18,"v":141.0},{"p":"h","s":"Mean T-level (straight)","e":19,"v":138.7},{"p":"h","s":"Mean T-level (straight)","e":20,"v":139.4},{"p":"h","s":"Mean T-level (straight)","e":21,"v":140.3},{"p":"h","s":"Mean T-level (straight)","e":22,"v":141.3},
{"p":"i","s":"C-level","e":3,"v":173.4},{"p":"i","s":"C-level","e":4,"v":162.5},{"p":"i","s":"C-level","e":5,"v":159.1},{"p":"i","s":"C-level","e":6,"v":168.5},{"p":"i","s":"C-level","e":7,"v":170.5},{"p":"i","s":"C-level","e":8,"v":170.5},{"p":"i","s":"C-level","e":9,"v":171.4},{"p":"i","s":"C-level","e":10,"v":172.3},{"p":"i","s":"C-level","e":11,"v":170.5},{"p":"i","s":"C-level","e":12,"v":169.3},{"p":"i","s":"C-level","e":13,"v":166.6},{"p":"i","s":"C-level","e":14,"v":164.4},{"p":"i","s":"C-level","e":15,"v":162.5},{"p":"i","s":"C-level","e":16,"v":160.5},{"p":"i","s":"C-level","e":17,"v":157.6},{"p":"i","s":"C-level","e":18,"v":154.6},{"p":"i","s":"C-level","e":19,"v":142.7},{"p":"i","s":"C-level","e":20,"v":138.3},{"p":"i","s":"C-level","e":21,"v":128.5},{"p":"i","s":"C-level","e":22,"v":129.5},
{"p":"i","s":"T-level","e":3,"v":160.3},{"p":"i","s":"T-level","e":4,"v":150.3},{"p":"i","s":"T-level","e":5,"v":149.5},{"p":"i","s":"T-level","e":6,"v":161.7},{"p":"i","s":"T-level","e":7,"v":163.5},{"p":"i","s":"T-level","e":8,"v":163.5},{"p":"i","s":"T-level","e":9,"v":162.5},{"p":"i","s":"T-level","e":10,"v":158.4},{"p":"i","s":"T-level","e":11,"v":154.6},{"p":"i","s":"T-level","e":12,"v":152.3},{"p":"i","s":"T-level","e":13,"v":151.2},{"p":"i","s":"T-level","e":14,"v":148.5},{"p":"i","s":"T-level","e":15,"v":146.5},{"p":"i","s":"T-level","e":16,"v":143.5},{"p":"i","s":"T-level","e":17,"v":137.3},{"p":"i","s":"T-level","e":18,"v":136.0},{"p":"i","s":"T-level","e":19,"v":127.1},{"p":"i","s":"T-level","e":20,"v":125.0},{"p":"i","s":"T-level","e":21,"v":122.9},{"p":"i","s":"T-level","e":22,"v":125.6},
{"p":"i","s":"Mean C-level (straight)","e":3,"v":185.6},{"p":"i","s":"Mean C-level (straight)","e":4,"v":182.5},{"p":"i","s":"Mean C-level (straight)","e":5,"v":175.3},{"p":"i","s":"Mean C-level (straight)","e":6,"v":174.4},{"p":"i","s":"Mean C-level (straight)","e":7,"v":174.8},{"p":"i","s":"Mean C-level (straight)","e":8,"v":173.7},{"p":"i","s":"Mean C-level (straight)","e":9,"v":173.0},{"p":"i","s":"Mean C-level (straight)","e":10,"v":172.6},{"p":"i","s":"Mean C-level (straight)","e":11,"v":171.0},{"p":"i","s":"Mean C-level (straight)","e":12,"v":169.6},{"p":"i","s":"Mean C-level (straight)","e":13,"v":167.1},{"p":"i","s":"Mean C-level (straight)","e":14,"v":166.6},{"p":"i","s":"Mean C-level (straight)","e":15,"v":165.5},{"p":"i","s":"Mean C-level (straight)","e":16,"v":163.5},{"p":"i","s":"Mean C-level (straight)","e":17,"v":160.7},{"p":"i","s":"Mean C-level (straight)","e":18,"v":158.7},{"p":"i","s":"Mean C-level (straight)","e":19,"v":157.8},{"p":"i","s":"Mean C-level (straight)","e":20,"v":157.3},{"p":"i","s":"Mean C-level (straight)","e":21,"v":156.7},{"p":"i","s":"Mean C-level (straight)","e":22,"v":156.3},
{"p":"i","s":"Mean T-level (straight)","e":3,"v":176.1},{"p":"i","s":"Mean T-level (straight)","e":4,"v":173.7},{"p":"i","s":"Mean T-level (straight)","e":5,"v":168.0},{"p":"i","s":"Mean T-level (straight)","e":6,"v":164.1},{"p":"i","s":"Mean T-level (straight)","e":7,"v":162.5},{"p":"i","s":"Mean T-level (straight)","e":8,"v":160.7},{"p":"i","s":"Mean T-level (straight)","e":9,"v":161.2},{"p":"i","s":"Mean T-level (straight)","e":10,"v":158.7},{"p":"i","s":"Mean T-level (straight)","e":11,"v":156.3},{"p":"i","s":"Mean T-level (straight)","e":12,"v":154.9},{"p":"i","s":"Mean T-level (straight)","e":13,"v":152.6},{"p":"i","s":"Mean T-level (straight)","e":14,"v":150.3},{"p":"i","s":"Mean T-level (straight)","e":15,"v":148.5},{"p":"i","s":"Mean T-level (straight)","e":16,"v":147.1},{"p":"i","s":"Mean T-level (straight)","e":17,"v":145.1},{"p":"i","s":"Mean T-level (straight)","e":18,"v":142.4},{"p":"i","s":"Mean T-level (straight)","e":19,"v":138.3},{"p":"i","s":"Mean T-level (straight)","e":20,"v":140.3},{"p":"i","s":"Mean T-level (straight)","e":21,"v":142.4},{"p":"i","s":"Mean T-level (straight)","e":22,"v":143.7}
]
},
"concat": [
{
 "width": 281, "height": 241,
 "title": {"text": "Patient 1"},
 "data": {"name": "r1"},
 "transform": [{"filter": "datum.p === 'a'"}],
 "layer": [
  {"mark": {"type": "line"},
   "encoding": {
    "x": {"field": "e", "type": "quantitative", "scale": {"domain": [0, 23], "nice": false, "zero": false}, "axis": {"values": [1,2,3,4,5,6,7,8,9,10,11,12,13,14,15,16,17,18,19,20,21,22], "labels": false, "title": "a", "titleX": 15, "titleY": -225, "titleAngle": 0, "titleAlign": "left", "titleBaseline": "alphabetic", "titleFont": "DejaVu Sans", "titleFontSize": 16}},
    "y": {"field": "v", "type": "quantitative", "scale": {"domain": [0, 20], "nice": false}, "axis": {"values": [0,4,8,12,16,20], "title": "Impedance (kOhm)"}},
    "strokeDash": {"field": "s", "type": "nominal", "scale": {"domain": ["Post-Start-up","Pre-Start-up","Review","Intraoperative"], "range": [[1,0],[1,0],[1.5,2.5],[1.5,2.5]]}, "legend": null}}},
  {"mark": {"type": "point"},
   "encoding": {
    "x": {"field": "e", "type": "quantitative"},
    "y": {"field": "v", "type": "quantitative"},
    "shape": {"field": "s", "type": "nominal", "scale": {"domain": ["Intraoperative","Review","Pre-Start-up","Post-Start-up"], "range": ["M-1,-1H1L0.2,0L1,1H-1L-0.2,0Z","triangle-up","square","circle"]}, "legend": {"orient": "top-right", "title": null}}}}
 ]
},
{
 "width": 281, "height": 241,
 "title": {"text": "Patient 2"},
 "data": {"name": "r1"},
 "transform": [{"filter": "datum.p === 'b'"}],
 "layer": [
  {"mark": {"type": "line"},
   "encoding": {
    "x": {"field": "e", "type": "quantitative", "scale": {"domain": [0, 23], "nice": false, "zero": false}, "axis": {"values": [1,2,3,4,5,6,7,8,9,10,11,12,13,14,15,16,17,18,19,20,21,22], "labels": false, "title": "b", "titleX": 15, "titleY": -225, "titleAngle": 0, "titleAlign": "left", "titleBaseline": "alphabetic", "titleFont": "DejaVu Sans", "titleFontSize": 16}},
    "y": {"field": "v", "type": "quantitative", "scale": {"domain": [0, 20], "nice": false}, "axis": {"values": [0,4,8,12,16,20], "labels": false, "title": null}},
    "strokeDash": {"field": "s", "type": "nominal", "scale": {"domain": ["Intraoperative","Review","Pre-Start-up","Post-Start-up"], "range": [[1.5,2.5],[1.5,2.5],[1,0],[1,0]]}, "legend": null}}},
  {"mark": {"type": "point"},
   "encoding": {
    "x": {"field": "e", "type": "quantitative"},
    "y": {"field": "v", "type": "quantitative"},
    "shape": {"field": "s", "type": "nominal", "scale": {"domain": ["Intraoperative","Review","Pre-Start-up","Post-Start-up"], "range": ["M-1,-1H1L0.2,0L1,1H-1L-0.2,0Z","triangle-up","square","circle"]}, "legend": null}}}
 ]
},
{
 "width": 281, "height": 241,
 "title": {"text": "Patient 3"},
 "data": {"name": "r1"},
 "transform": [{"filter": "datum.p === 'c'"}],
 "layer": [
  {"mark": {"type": "line"},
   "encoding": {
    "x": {"field": "e", "type": "quantitative", "scale": {"domain": [0, 23], "nice": false, "zero": false}, "axis": {"values": [1,2,3,4,5,6,7,8,9,10,11,12,13,14,15,16,17,18,19,20,21,22], "labels": false, "title": "c", "titleX": 15, "titleY": -225, "titleAngle": 0, "titleAlign": "left", "titleBaseline": "alphabetic", "titleFont": "DejaVu Sans", "titleFontSize": 16}},
    "y": {"field": "v", "type": "quantitative", "scale": {"domain": [0, 20], "nice": false}, "axis": {"orient": "left", "values": [0,4,8,12,16,20], "labels": false, "title": null}},
    "strokeDash": {"field": "s", "type": "nominal", "scale": {"domain": ["Intraoperative","Review","Pre-Start-up","Post-Start-up"], "range": [[1.5,2.5],[1.5,2.5],[1,0],[1,0]]}, "legend": null}}},
  {"mark": {"type": "point"},
   "encoding": {
    "x": {"field": "e", "type": "quantitative"},
    "y": {"field": "v", "type": "quantitative", "axis": {"orient": "right", "values": [0,4,8,12,16,20], "title": "Impedance (kOhm)", "titleFontSize": 11, "labelPadding": 6, "titlePadding": 1}},
    "shape": {"field": "s", "type": "nominal", "scale": {"domain": ["Intraoperative","Review","Pre-Start-up","Post-Start-up"], "range": ["M-1,-1H1L0.2,0L1,1H-1L-0.2,0Z","triangle-up","square","circle"]}, "legend": null}}}
 ]
},
{
 "width": 281, "height": 242,
 "resolve": {"scale": {"y": "independent"}},
 "layer": [
  {"layer": [
    {"data": {"name": "r2"}, "transform": [{"filter": "datum.p === 'd'"}],
     "mark": {"type": "line"},
     "encoding": {
      "x": {"field": "e", "type": "quantitative", "scale": {"domain": [0, 23], "nice": false, "zero": false}, "axis": {"values": [1,2,3,4,5,6,7,8,9,10,11,12,13,14,15,16,17,18,19,20,21,22], "labels": false, "title": "d", "titleX": 15, "titleY": -226, "titleAngle": 0, "titleAlign": "left", "titleBaseline": "alphabetic", "titleFont": "DejaVu Sans", "titleFontSize": 16}},
      "y": {"field": "v", "type": "quantitative", "scale": {"domain": [0, 10], "nice": false}, "axis": {"values": [0,2,4,6,8], "title": "Impedance (kOhm)"}}}},
    {"data": {"name": "ctrl"},
     "mark": {"type": "line", "strokeWidth": 1.1},
     "encoding": {
      "x": {"field": "e", "type": "quantitative"},
      "y": {"field": "v", "type": "quantitative"},
      "strokeDash": {"field": "s", "type": "nominal", "scale": {"domain": ["Post-Start-up (mean controls)"], "range": [[1.5,2.5]]},
        "legend": {"orient": "none", "legendX": 122, "legendY": 31, "title": null, "symbolType": "M-1.5,0H1.5", "symbolSize": 180, "symbolStrokeWidth": 1.2, "labelOffset": 21,
          "labelExpr": "indexof(datum.label, ' (') > 0 ? [slice(datum.label, 0, indexof(datum.label, ' (')), ' ' + slice(datum.label, indexof(datum.label, ' (') + 1)] : datum.label"}}}},
    {"data": {"name": "r2"}, "transform": [{"filter": "datum.p === 'd'"}],
     "mark": {"type": "point"},
     "encoding": {
      "x": {"field": "e", "type": "quantitative"},
      "y": {"field": "v", "type": "quantitative"},
      "shape": {"field": "s", "type": "nominal", "scale": {"domain": ["Post-Start-up (area corrected)"], "range": ["circle"]},
        "legend": {"orient": "none", "legendX": 140, "legendY": 3, "title": null,
          "labelExpr": "indexof(datum.label, ' (') > 0 ? [slice(datum.label, 0, indexof(datum.label, ' (')), ' ' + slice(datum.label, indexof(datum.label, ' (') + 1)] : datum.label"}}}}
  ]},
  {"data": {"name": "rad"}, "transform": [{"filter": "datum.p === 'd'"}],
   "layer": [
    {"mark": {"type": "line", "strokeWidth": 1.1, "strokeDash": [2, 3]},
     "encoding": {
      "x": {"field": "e", "type": "quantitative"},
      "y": {"field": "v", "type": "quantitative", "scale": {"domain": [0, 5], "nice": false}, "axis": {"orient": "right", "values": [0,1,2,3,4], "labels": false, "title": null}}}},
    {"mark": {"type": "point", "shape": "triangle-down"},
     "encoding": {
      "x": {"field": "e", "type": "quantitative"},
      "y": {"field": "v", "type": "quantitative"},
      "color": {"field": "s", "type": "nominal", "scale": {"domain": ["Radial distance"], "range": ["black"]},
        "legend": {"orient": "none", "legendX": 140, "legendY": 67, "title": null}}}}
  ]}
 ]
},
{
 "width": 281, "height": 242,
 "resolve": {"scale": {"y": "independent"}},
 "layer": [
  {"layer": [
    {"data": {"name": "r2"}, "transform": [{"filter": "datum.p === 'e'"}],
     "mark": {"type": "line"},
     "encoding": {
      "x": {"field": "e", "type": "quantitative", "scale": {"domain": [0, 23], "nice": false, "zero": false}, "axis": {"values": [1,2,3,4,5,6,7,8,9,10,11,12,13,14,15,16,17,18,19,20,21,22], "labels": false, "title": "e", "titleX": 15, "titleY": -226, "titleAngle": 0, "titleAlign": "left", "titleBaseline": "alphabetic", "titleFont": "DejaVu Sans", "titleFontSize": 16}},
      "y": {"field": "v", "type": "quantitative", "scale": {"domain": [0, 10], "nice": false}, "axis": {"values": [0,2,4,6,8], "labels": false, "title": null}}}},
    {"data": {"name": "ctrl"},
     "mark": {"type": "line", "strokeWidth": 1.1, "strokeDash": [1.5, 2.5]},
     "encoding": {
      "x": {"field": "e", "type": "quantitative"},
      "y": {"field": "v", "type": "quantitative"}}},
    {"data": {"name": "r2"}, "transform": [{"filter": "datum.p === 'e'"}],
     "mark": {"type": "point", "shape": "circle"},
     "encoding": {
      "x": {"field": "e", "type": "quantitative"},
      "y": {"field": "v", "type": "quantitative"}}}
  ]},
  {"data": {"name": "rad"}, "transform": [{"filter": "datum.p === 'e'"}],
   "layer": [
    {"mark": {"type": "line", "strokeWidth": 1.1, "strokeDash": [2, 3]},
     "encoding": {
      "x": {"field": "e", "type": "quantitative"},
      "y": {"field": "v", "type": "quantitative", "scale": {"domain": [0, 5], "nice": false}, "axis": {"orient": "right", "values": [0,1,2,3,4], "labels": false, "title": null}}}},
    {"mark": {"type": "point", "shape": "triangle-down"},
     "encoding": {
      "x": {"field": "e", "type": "quantitative"},
      "y": {"field": "v", "type": "quantitative"}}}
  ]}
 ]
},
{
 "width": 281, "height": 242,
 "resolve": {"scale": {"y": "independent"}},
 "layer": [
  {"layer": [
    {"data": {"name": "r2"}, "transform": [{"filter": "datum.p === 'f'"}],
     "mark": {"type": "line"},
     "encoding": {
      "x": {"field": "e", "type": "quantitative", "scale": {"domain": [0, 23], "nice": false, "zero": false}, "axis": {"values": [1,2,3,4,5,6,7,8,9,10,11,12,13,14,15,16,17,18,19,20,21,22], "labels": false, "title": "f", "titleX": 15, "titleY": -226, "titleAngle": 0, "titleAlign": "left", "titleBaseline": "alphabetic", "titleFont": "DejaVu Sans", "titleFontSize": 16}},
      "y": {"field": "v", "type": "quantitative", "scale": {"domain": [0, 10], "nice": false}, "axis": {"values": [0,2,4,6,8], "labels": false, "title": null}}}},
    {"data": {"name": "ctrl"},
     "mark": {"type": "line", "strokeWidth": 1.1, "strokeDash": [1.5, 2.5]},
     "encoding": {
      "x": {"field": "e", "type": "quantitative"},
      "y": {"field": "v", "type": "quantitative"}}},
    {"data": {"name": "r2"}, "transform": [{"filter": "datum.p === 'f'"}],
     "mark": {"type": "point", "shape": "circle"},
     "encoding": {
      "x": {"field": "e", "type": "quantitative"},
      "y": {"field": "v", "type": "quantitative"}}}
  ]},
  {"data": {"name": "rad"}, "transform": [{"filter": "datum.p === 'f'"}],
   "layer": [
    {"mark": {"type": "line", "strokeWidth": 1.1, "strokeDash": [2, 3]},
     "encoding": {
      "x": {"field": "e", "type": "quantitative"},
      "y": {"field": "v", "type": "quantitative", "scale": {"domain": [0, 5], "nice": false}, "axis": {"orient": "right", "values": [0,1,2,3,4], "format": ".1f", "title": "Radial distance (mm)", "titleFontSize": 11, "labelPadding": 6, "titlePadding": 1}}}},
    {"mark": {"type": "point", "shape": "triangle-down"},
     "encoding": {
      "x": {"field": "e", "type": "quantitative"},
      "y": {"field": "v", "type": "quantitative"}}}
  ]}
 ]
},
{
 "width": 281, "height": 245,
 "resolve": {"scale": {"y": "independent"}, "axis": {"x": "independent"}},
 "layer": [
  {"data": {"name": "r3"}, "transform": [{"filter": "datum.p === 'g'"}],
   "layer": [
    {"transform": [{"filter": "datum.s === 'C-level' || datum.s === 'T-level'"}],
     "mark": {"type": "line"},
     "encoding": {
      "x": {"field": "e", "type": "quantitative", "scale": {"domain": [0, 23], "nice": false, "zero": false}, "axis": {"orient": "bottom", "values": [2,6,10,14,18,22], "title": "Electrode", "titlePadding": 1}},
      "y": {"field": "v", "type": "quantitative", "scale": {"domain": [110, 210], "nice": false, "zero": false}, "axis": {"values": [110,130,150,170,190], "title": "Current levels (CL)"}},
      "detail": {"field": "s", "type": "nominal"}}},
    {"transform": [{"filter": "datum.s === 'C-level' || datum.s === 'T-level'"}],
     "mark": {"type": "point"},
     "encoding": {
      "x": {"field": "e", "type": "quantitative"},
      "y": {"field": "v", "type": "quantitative"},
      "shape": {"field": "s", "type": "nominal", "scale": {"domain": ["C-level","T-level"], "range": ["square","circle"]}, "legend": {"orient": "none", "legendX": 113, "legendY": 3, "direction": "horizontal", "title": null, "columnPadding": 16}}}},
    {"transform": [{"filter": "datum.s === 'Mean C-level (straight)' || datum.s === 'Mean T-level (straight)'"}],
     "mark": {"type": "line", "strokeWidth": 1, "invalid": "break-paths-filter-domains"},
     "encoding": {
      "x": {"field": "e", "type": "quantitative"},
      "y": {"field": "v", "type": "quantitative"},
      "strokeDash": {"field": "s", "type": "nominal", "scale": {"domain": ["Mean C-level (straight)","Mean T-level (straight)"], "range": [[1,0],[1.5,2.5]]},
        "legend": {"orient": "none", "legendX": 88, "legendY": 19, "title": null, "symbolType": "M-2,0H2", "symbolSize": 160, "symbolStrokeWidth": 1, "labelOffset": 18, "rowPadding": 3}}}}
   ]},
  {"data": {"name": "rad"}, "transform": [{"filter": "datum.p === 'g'"}],
   "mark": {"type": "line", "strokeWidth": 1.1},
   "encoding": {
    "x": {"field": "e", "type": "quantitative", "axis": {"orient": "bottom", "values": [4,8,12,16,20], "title": null}},
    "y": {"field": "v", "type": "quantitative", "scale": {"domain": [0, 5], "nice": false}, "axis": {"orient": "right", "values": [0,1,2,3,4], "labels": false, "title": "g", "titleX": -266, "titleY": 16, "titleAngle": 0, "titleAlign": "left", "titleBaseline": "alphabetic", "titleFont": "DejaVu Sans", "titleFontSize": 16}}}},
  {"data": {"name": "rad"}, "transform": [{"filter": "datum.p === 'g'"}],
   "mark": {"type": "point", "shape": "triangle-down"},
   "encoding": {
    "x": {"field": "e", "type": "quantitative", "axis": {"orient": "bottom", "values": [1,3,5,7,9,11,13,15,17,19,21], "labels": false, "title": null}},
    "y": {"field": "v", "type": "quantitative", "scale": {"domain": [0, 5], "nice": false}, "axis": null},
    "color": {"field": "s", "type": "nominal", "scale": {"domain": ["Radial distance"], "range": ["black"]},
      "legend": {"orient": "none", "legendX": 112, "legendY": 53, "title": null, "labelOffset": 14}}}}
 ]
},
{
 "width": 281, "height": 245,
 "resolve": {"scale": {"y": "independent"}, "axis": {"x": "independent"}},
 "layer": [
  {"data": {"name": "r3"}, "transform": [{"filter": "datum.p === 'h'"}],
   "layer": [
    {"transform": [{"filter": "datum.s === 'C-level' || datum.s === 'T-level'"}],
     "mark": {"type": "line"},
     "encoding": {
      "x": {"field": "e", "type": "quantitative", "scale": {"domain": [0, 23], "nice": false, "zero": false}, "axis": {"orient": "bottom", "values": [2,6,10,14,18,22], "title": "Electrode", "titlePadding": 1}},
      "y": {"field": "v", "type": "quantitative", "scale": {"domain": [110, 210], "nice": false, "zero": false}, "axis": {"values": [110,130,150,170,190], "labels": false, "title": "h", "titleX": 15, "titleY": 16, "titleAngle": 0, "titleAlign": "left", "titleBaseline": "alphabetic", "titleFont": "DejaVu Sans", "titleFontSize": 16}},
      "detail": {"field": "s", "type": "nominal"}}},
    {"transform": [{"filter": "datum.s === 'C-level' || datum.s === 'T-level'"}],
     "mark": {"type": "point"},
     "encoding": {
      "x": {"field": "e", "type": "quantitative"},
      "y": {"field": "v", "type": "quantitative"},
      "shape": {"field": "s", "type": "nominal", "scale": {"domain": ["C-level","T-level"], "range": ["square","circle"]}, "legend": null}}},
    {"transform": [{"filter": "datum.s === 'Mean C-level (straight)' || datum.s === 'Mean T-level (straight)'"}],
     "mark": {"type": "line", "strokeWidth": 1},
     "encoding": {
      "x": {"field": "e", "type": "quantitative"},
      "y": {"field": "v", "type": "quantitative"},
      "strokeDash": {"field": "s", "type": "nominal", "scale": {"domain": ["Mean C-level (straight)","Mean T-level (straight)"], "range": [[1,0],[1.5,2.5]]}, "legend": null}}}
   ]},
  {"data": {"name": "rad"}, "transform": [{"filter": "datum.p === 'h'"}],
   "mark": {"type": "line", "strokeWidth": 1.1},
   "encoding": {
    "x": {"field": "e", "type": "quantitative", "axis": {"orient": "bottom", "values": [4,8,12,16,20], "title": null}},
    "y": {"field": "v", "type": "quantitative", "scale": {"domain": [0, 5], "nice": false}, "axis": {"orient": "right", "values": [0,1,2,3,4], "labels": false, "title": null}}}},
  {"data": {"name": "rad"}, "transform": [{"filter": "datum.p === 'h'"}],
   "mark": {"type": "point", "shape": "triangle-down"},
   "encoding": {
    "x": {"field": "e", "type": "quantitative", "axis": {"orient": "bottom", "values": [1,3,5,7,9,11,13,15,17,19,21], "labels": false, "title": null}},
    "y": {"field": "v", "type": "quantitative", "scale": {"domain": [0, 5], "nice": false}, "axis": null}}}
 ]
},
{
 "width": 281, "height": 245,
 "resolve": {"scale": {"y": "independent"}, "axis": {"x": "independent"}},
 "layer": [
  {"data": {"name": "r3"}, "transform": [{"filter": "datum.p === 'i'"}],
   "layer": [
    {"transform": [{"filter": "datum.s === 'C-level' || datum.s === 'T-level'"}],
     "mark": {"type": "line"},
     "encoding": {
      "x": {"field": "e", "type": "quantitative", "scale": {"domain": [0, 23], "nice": false, "zero": false}, "axis": {"orient": "bottom", "values": [2,6,10,14,18,22], "title": "Electrode", "titlePadding": 1}},
      "y": {"field": "v", "type": "quantitative", "scale": {"domain": [110, 210], "nice": false, "zero": false}, "axis": {"values": [110,130,150,170,190], "labels": false, "title": "i", "titleX": 15, "titleY": 16, "titleAngle": 0, "titleAlign": "left", "titleBaseline": "alphabetic", "titleFont": "DejaVu Sans", "titleFontSize": 16}},
      "detail": {"field": "s", "type": "nominal"}}},
    {"transform": [{"filter": "datum.s === 'C-level' || datum.s === 'T-level'"}],
     "mark": {"type": "point"},
     "encoding": {
      "x": {"field": "e", "type": "quantitative"},
      "y": {"field": "v", "type": "quantitative"},
      "shape": {"field": "s", "type": "nominal", "scale": {"domain": ["C-level","T-level"], "range": ["square","circle"]}, "legend": null}}},
    {"transform": [{"filter": "datum.s === 'Mean C-level (straight)' || datum.s === 'Mean T-level (straight)'"}],
     "mark": {"type": "line", "strokeWidth": 1},
     "encoding": {
      "x": {"field": "e", "type": "quantitative"},
      "y": {"field": "v", "type": "quantitative"},
      "strokeDash": {"field": "s", "type": "nominal", "scale": {"domain": ["Mean C-level (straight)","Mean T-level (straight)"], "range": [[1,0],[1.5,2.5]]}, "legend": null}}}
   ]},
  {"data": {"name": "rad"}, "transform": [{"filter": "datum.p === 'i'"}],
   "mark": {"type": "line", "strokeWidth": 1.1},
   "encoding": {
    "x": {"field": "e", "type": "quantitative", "axis": {"orient": "bottom", "values": [4,8,12,16,20], "title": null}},
    "y": {"field": "v", "type": "quantitative", "scale": {"domain": [0, 5], "nice": false}, "axis": {"orient": "right", "values": [0,1,2,3,4], "format": ".1f", "title": "Radial distance (mm)", "titleFontSize": 11, "labelPadding": 6, "titlePadding": 1}}}},
  {"data": {"name": "rad"}, "transform": [{"filter": "datum.p === 'i'"}],
   "mark": {"type": "point", "shape": "triangle-down"},
   "encoding": {
    "x": {"field": "e", "type": "quantitative", "axis": {"orient": "bottom", "values": [1,3,5,7,9,11,13,15,17,19,21], "labels": false, "title": null}},
    "y": {"field": "v", "type": "quantitative", "scale": {"domain": [0, 5], "nice": false}, "axis": null}}}
 ]
}
]
}
